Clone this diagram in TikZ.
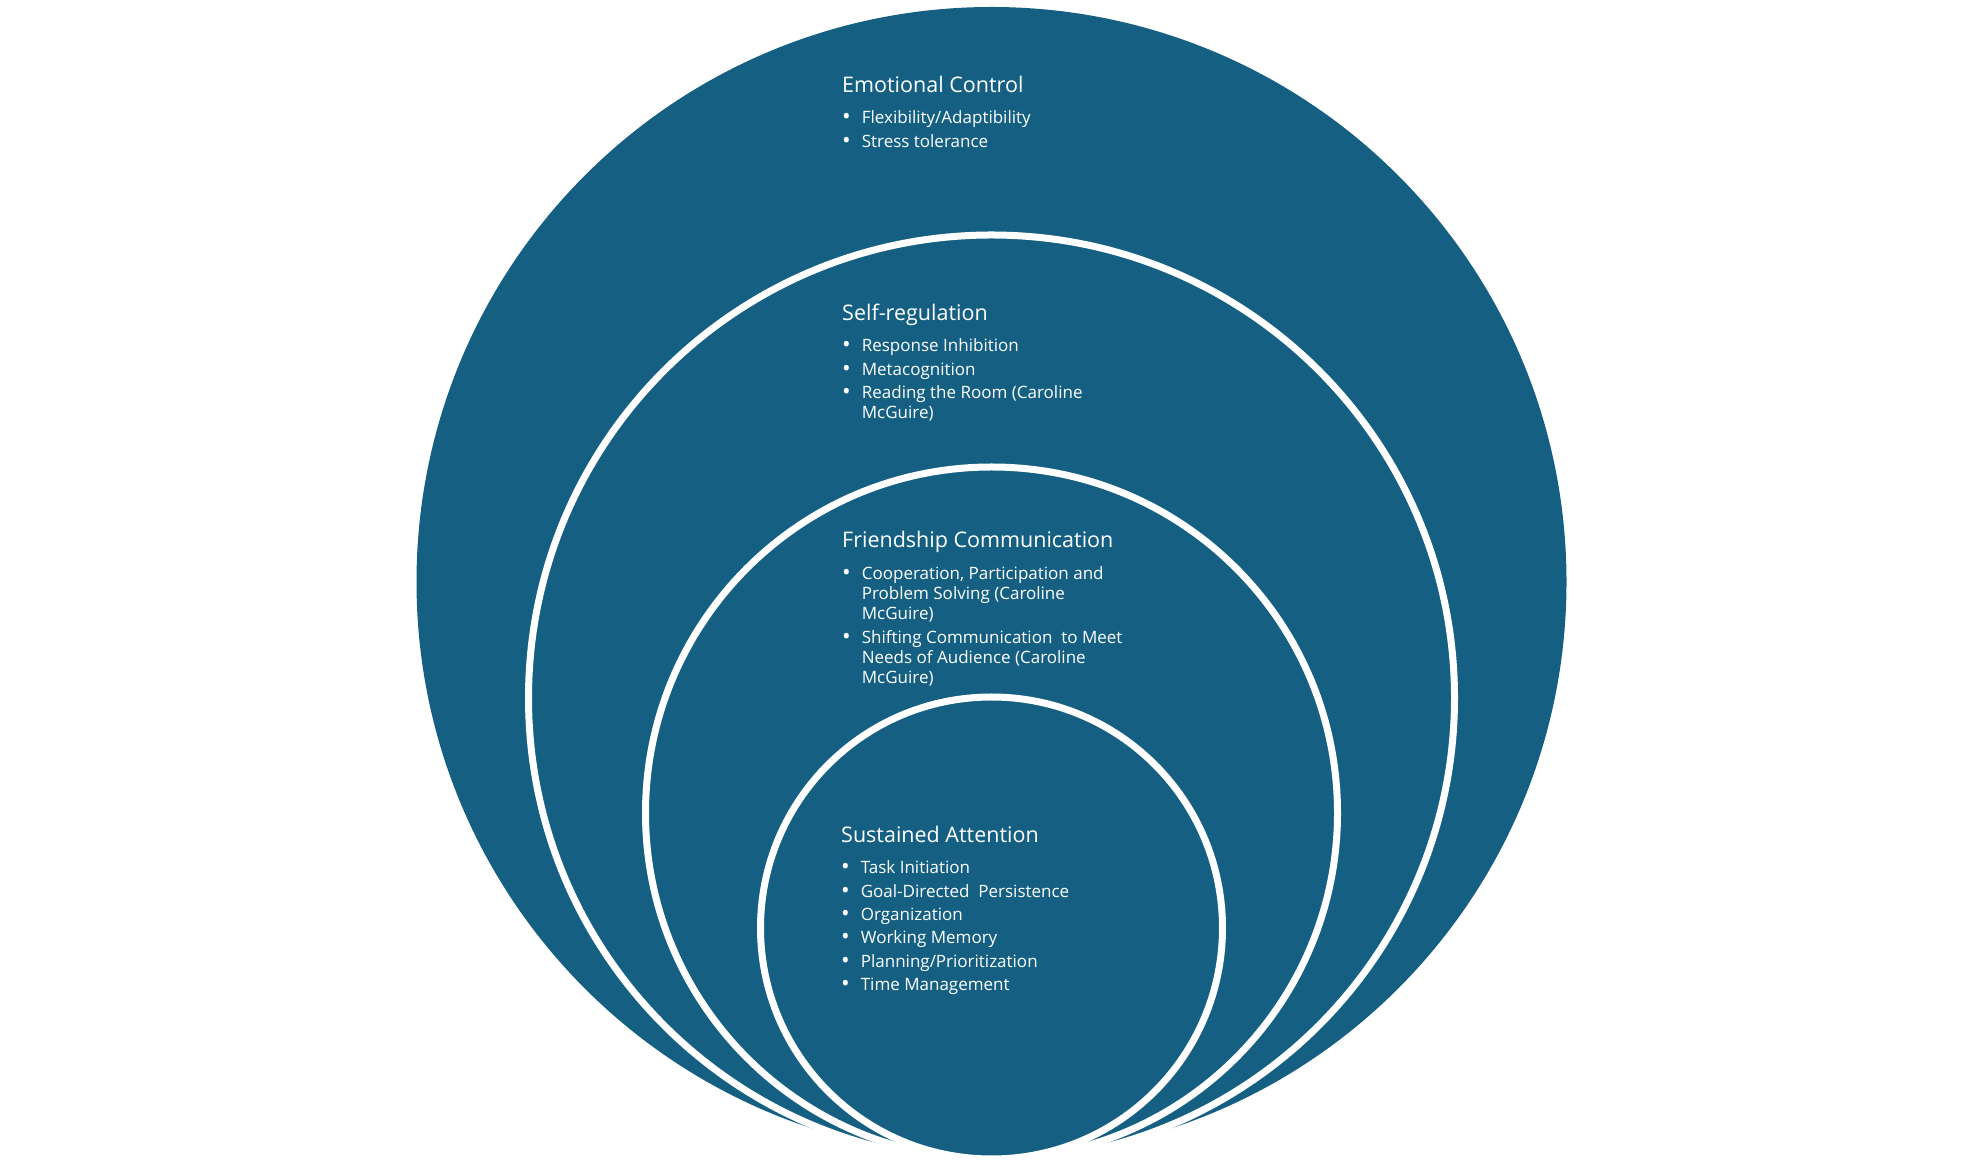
\documentclass[tikz,border=0pt]{standalone}
\usepackage{fontspec}
\setmainfont{Open Sans}
\definecolor{ringblue}{HTML}{156082}
\newcommand{\bul}{\raisebox{-0.05em}{\scalebox{1.35}{\textbullet}}}

\begin{document}
\begin{tikzpicture}[x=1pt, y=1pt,
	ring/.style = {circle, fill=ringblue, draw=white, line width=7pt, inner sep=0pt},
	heading/.style = {anchor=base west, text=white, inner sep=0pt, font=\fontsize{21.5}{24}\selectfont},
	items/.style = {anchor=base west, text=white, inner sep=0pt, font=\fontsize{17}{20}\selectfont}]

	\useasboundingbox (0,0) rectangle (1980,1162);

	\node [ring, draw=none, minimum size=1150pt] (emotional) at (991.5,580) {};
	\node [ring, minimum size=926pt] (selfreg) at (991.5,464) {};
	\node [ring, minimum size=692pt] (friendship) at (991.5,349) {};
	\node [ring, minimum size=462pt] (sustained) at (991.5,234) {};

	\node [heading] (ec) at (842,1069) {Emotional Control};
	\node [items] (ecl) at ([yshift=-31pt]ec.base west) {\begin{tabular}[t]{@{}l@{\hspace{11pt}}l@{}}
		\bul & Flexibility/Adaptibility \\[3.5pt]
		\bul & Stress tolerance
	\end{tabular}};

	\node [heading] (sr) at (842,841) {Self-regulation};
	\node [items] (srl) at ([yshift=-31pt]sr.base west) {\begin{tabular}[t]{@{}l@{\hspace{11pt}}l@{}}
		\bul & Response Inhibition \\[3.5pt]
		\bul & Metacognition \\[3.5pt]
		\bul & Reading the Room (Caroline \\
		     & McGuire)
	\end{tabular}};

	\node [heading] (fc) at (842,614) {Friendship Communication};
	\node [items] (fcl) at ([yshift=-32pt]fc.base west) {\begin{tabular}[t]{@{}l@{\hspace{11pt}}l@{}}
		\bul & Cooperation, Participation and \\
		     & Problem Solving (Caroline \\
		     & McGuire) \\[4pt]
		\bul & Shifting Communication~ to Meet \\
		     & Needs of Audience (Caroline \\
		     & McGuire)
	\end{tabular}};

	\node [heading] (sa) at (841,319) {Sustained Attention};
	\node [items] (sal) at ([yshift=-31pt]sa.base west) {\begin{tabular}[t]{@{}l@{\hspace{11pt}}l@{}}
		\bul & Task Initiation \\[3.3pt]
		\bul & Goal-Directed~ Persistence \\[3.3pt]
		\bul & Organization \\[3.3pt]
		\bul & Working Memory \\[3.3pt]
		\bul & Planning/Prioritization \\[3.3pt]
		\bul & Time Management
	\end{tabular}};

\end{tikzpicture}
\end{document}
